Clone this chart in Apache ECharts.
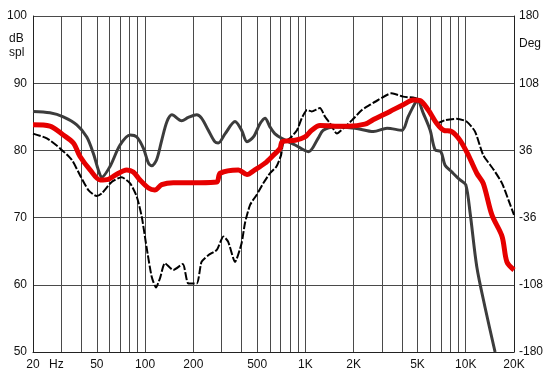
<!DOCTYPE html>
<html>
<head>
<meta charset="utf-8">
<script src="https://cdn.jsdelivr.net/npm/echarts@6/dist/echarts.min.js"></script>
<style>
  html, body { margin: 0; padding: 0; background: #fff; }
  #chart { width: 557px; height: 377px; }
</style>
</head>
<body>
<div id="chart"></div>
<script>
// frequency response, three curves (Hz / dB spl)
const grayFreq = [20, 25.5, 30.9, 37.5, 43.3, 47.5, 51.1, 53.7, 60.4, 69.8, 80.7, 88.8, 97.7, 105, 110, 118, 127, 137, 147, 169,
  186, 210, 225, 248, 272, 286, 316, 364, 400, 432, 474, 522, 560, 601, 644, 711, 863, 1046, 1200, 1292,
  1530, 2040, 2660, 3230, 4000, 4370, 4820, 5000, 5440, 6000, 6440, 7000, 7430, 8180, 9220, 10000, 10660, 11720, 13180, 15240];
const grayDb = [85.8, 85.6, 85.0, 83.8, 82.0, 79.6, 77.1, 76.0, 77.6, 80.8, 82.3, 82.0, 80.3, 78.1, 77.7, 78.6, 81.5, 84.3, 85.3, 84.4,
  84.9, 85.3, 84.8, 83.0, 81.3, 81.1, 82.5, 84.3, 83.0, 81.3, 82.0, 84.0, 84.8, 83.5, 82.5, 81.8, 80.8, 79.8, 81.8, 83.0,
  83.5, 83.3, 82.8, 83.3, 83.0, 85.0, 87.0, 87.5, 85.5, 83.0, 80.1, 79.8, 77.8, 76.8, 75.6, 74.9, 70.6, 62.7, 56.7, 50.0];

const redFreq = [20, 25.5, 30.9, 35.7, 39.3, 45.4, 52.4, 59, 65, 76.9, 84.4, 93, 105, 115, 127, 150, 220, 280, 294, 382,
  432, 484, 560, 632, 695, 717, 863, 994, 1094, 1232, 1530, 1852, 2350, 2660, 3370, 4070, 4710, 5200, 5840, 6600,
  7280, 8180, 9220, 10380, 11720, 12860, 14560, 16850, 18060, 20000];
const redDb = [83.8, 83.6, 82.3, 81.1, 79.1, 77.1, 75.6, 75.7, 76.3, 77.1, 76.8, 75.6, 74.4, 74.1, 74.9, 75.2, 75.2, 75.3, 76.6, 77.1,
  76.4, 77.1, 78.1, 79.3, 80.3, 81.3, 81.5, 82.0, 83.0, 83.7, 83.6, 83.6, 83.9, 84.6, 85.8, 86.8, 87.5, 87.4, 86.0, 84.0,
  83.0, 82.8, 81.5, 79.3, 76.6, 75.1, 70.4, 67.2, 63.4, 62.2];

const blackFreq = [20, 24.4, 29.5, 34.9, 39.3, 44.3, 49.9, 53.7, 61.9, 71.4, 80.7, 88.8, 95.4, 102, 110, 117, 124, 133, 150, 172,
  186, 210, 225, 248, 280, 308, 330, 364, 400, 420, 452, 497, 546, 601, 660, 705, 728, 802, 886, 950,
  1024, 1094, 1232, 1326, 1426, 1572, 1730, 1952, 2250, 2540, 2840, 3450, 4070, 4820, 5330, 5840, 6600, 7430, 8760, 10120,
  11430, 12860, 14960, 16850, 18480, 20000];
const blackDb = [82.5, 81.8, 80.3, 78.6, 76.3, 74.1, 73.2, 73.6, 75.3, 76.0, 75.1, 73.1, 70.1, 65.7, 61.2, 59.6, 61.0, 63.2, 62.2, 63.1,
  60.2, 60.2, 63.4, 64.4, 65.2, 67.2, 66.4, 63.4, 66.2, 69.2, 71.9, 73.4, 75.1, 76.6, 77.6, 79.3, 81.1, 81.8, 83.0, 84.8,
  86.0, 85.8, 86.3, 85.0, 84.0, 82.5, 83.3, 84.5, 86.0, 86.8, 87.5, 88.5, 88.0, 87.8, 87.3, 85.8, 84.0, 84.5, 84.7, 84.3,
  82.8, 79.3, 77.1, 75.1, 72.6, 70.4];

// axes
const gridFreqs = [20, 30, 40, 50, 60, 70, 80, 90, 100, 200, 300, 400, 500, 600, 700, 800, 900,
  1000, 2000, 3000, 4000, 5000, 6000, 7000, 8000, 9000, 10000, 20000];
const xLabelFreqs = [20, 28, 50, 100, 200, 500, 1000, 2000, 5000, 10000, 20000];
const xLabelText = ['20', 'Hz', '50', '100', '200', '500', '1K', '2K', '5K', '10K', '20K'];
const degTicks = [-180, -108, -36, 36, 108, 180];

const lg = Math.log10;
const pairs = (fs, ds) => fs.map((f, i) => [lg(f), ds[i]]);
const FONT = 'Liberation Sans';

const chart = echarts.init(document.getElementById('chart'), null, { renderer: 'canvas' });
chart.setOption({
  animation: false,
  backgroundColor: '#fff',
  grid: { left: 33, right: 43, top: 16, bottom: 25 },
  xAxis: {
    type: 'value',
    min: lg(20),
    max: lg(20000),
    axisLine: { show: true, onZero: false, lineStyle: { color: '#222', width: 1 } },
    axisTick: { show: false, customValues: gridFreqs.map(lg) },
    splitLine: { show: true, lineStyle: { color: '#4a4a4a', width: 1 } },
    axisLabel: {
      customValues: xLabelFreqs.map(lg),
      formatter: v => {
        const i = xLabelFreqs.findIndex(f => Math.abs(lg(f) - v) < 1e-6);
        return i >= 0 ? xLabelText[i] : '';
      },
      color: '#111', fontSize: 12, fontFamily: FONT, margin: 7
    }
  },
  yAxis: [
    {
      type: 'value', min: 50, max: 100, interval: 10,
      axisLine: { show: true, onZero: false, lineStyle: { color: '#222' } },
      axisTick: { show: false },
      splitLine: { show: true, lineStyle: { color: '#4a4a4a', width: 1 } },
      axisLabel: { color: '#111', fontSize: 12, fontFamily: FONT, margin: 6 }
    },
    {
      type: 'value', min: -180, max: 180, position: 'right',
      axisLine: { show: true, onZero: false, lineStyle: { color: '#222' } },
      axisTick: { show: false },
      splitLine: { show: false },
      axisLabel: { customValues: degTicks, color: '#111', fontSize: 12, fontFamily: FONT, margin: 5 }
    }
  ],
  graphic: [
    { type: 'text', left: 9, top: 32, style: { text: 'dB\nspl', font: '12px ' + FONT, fill: '#111', lineHeight: 14 } },
    { type: 'text', left: 519, top: 38, style: { text: 'Deg', font: '12px ' + FONT, fill: '#111' } }
  ],
  series: [
    {
      type: 'line', name: 'gray', data: pairs(grayFreq, grayDb), showSymbol: false, smooth: 0.3,
      lineStyle: { color: '#3c3c3c', width: 3 }, clip: true, z: 2
    },
    {
      type: 'line', name: 'black', data: pairs(blackFreq, blackDb), showSymbol: false, smooth: 0.2,
      lineStyle: { color: '#000', width: 2, type: [8, 2] }, clip: true, z: 3
    },
    {
      type: 'line', name: 'red', data: pairs(redFreq, redDb), showSymbol: false, smooth: 0.3,
      lineStyle: { color: '#e60000', width: 5 }, clip: true, z: 4
    }
  ]
});
</script>
</body>
</html>
